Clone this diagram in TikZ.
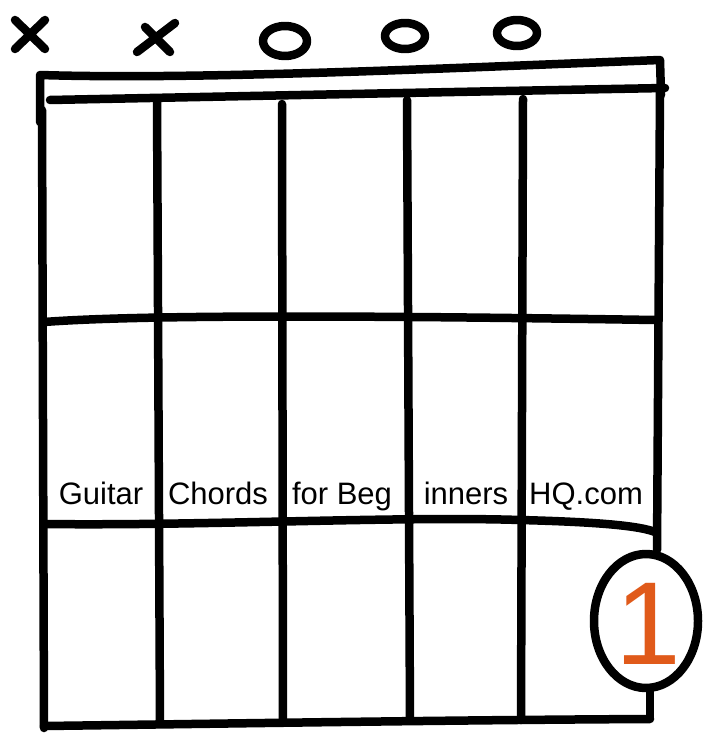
\documentclass[tikz,border=0pt]{standalone}
\usepackage{fontspec}
\setmainfont{Liberation Sans}
\begin{document}
\begin{tikzpicture}[x=1pt,y=-1pt,
  ink/.style={line width=8.5pt,line cap=round,line join=round,black},
  lbl/.style={font=\fontsize{31}{34}\selectfont,inner sep=0pt,anchor=base},
]
\definecolor{fingerorange}{HTML}{E05A1A}
\useasboundingbox (0,0) rectangle (710,738);
\fill[white] (0,0) rectangle (710,738);
% open / muted markers
\draw[ink] (15,20) -- (45,49) (45,20) -- (15,49);
\draw[ink] (137,52) -- (175,23) (145,27) -- (170,52);
\draw[ink] (285,41) ellipse (22pt and 15pt);
\draw[ink] (405,36) ellipse (20pt and 13pt);
\draw[ink] (517,33) ellipse (20pt and 13pt);
% nut
\draw[ink] (40,122) -- (40,75) .. controls (200,80) and (450,68) .. (660,60) -- (661,95);
\draw[ink] (50,100) .. controls (250,96) and (450,92) .. (665,88);
% strings
\draw[ink] (42,110) -- (44,728);
\draw[ink] (157,100) -- (160,722);
\draw[ink] (282,104) -- (283,722);
\draw[ink] (407,100) -- (410,720);
\draw[ink] (523,99) -- (521,720);
\draw[ink] (660,90) -- (657,550);
\draw[ink] (650,688) -- (650,718);
% frets
\draw[ink] (44,322) .. controls (150,314) and (400,316) .. (655,320);
\draw[ink] (44,524) .. controls (200,526) and (400,516) .. (520,520) .. controls (600,522) and (640,526) .. (655,532);
\draw[ink] (44,726) .. controls (200,724) and (450,720) .. (650,719);
% fret number circle
\draw[ink] (646,621) ellipse (52pt and 67pt);
\node[font=\fontsize{118}{118}\selectfont, text=fingerorange, inner sep=0pt] (num) at (648,624) {1};
% watermark text
\node[lbl] (t1) at (101,504) {Guitar};
\node[lbl] (t2) at (218,504) {Chords};
\node[lbl] (t3) at (342,504) {for Beg};
\node[lbl] (t4) at (466,504) {inners};
\node[lbl] (t5) at (586,504) {HQ.com};
\end{tikzpicture}
\end{document}
